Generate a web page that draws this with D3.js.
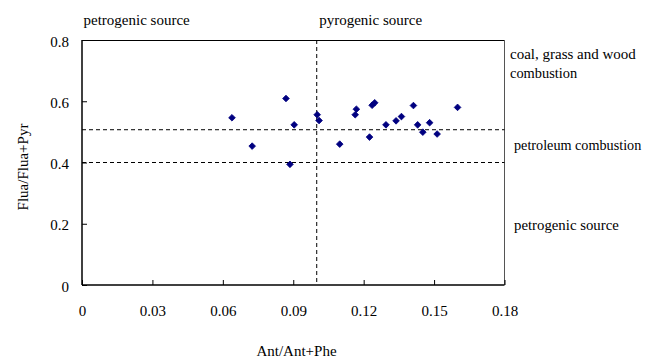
<!DOCTYPE html>
<html><head><meta charset="utf-8">
<script src="https://cdn.jsdelivr.net/npm/d3@7"></script>
<style>body{margin:0;background:#fff;}</style>
</head><body><svg id="c" width="645" height="357"></svg>
<script>
const antRatio = [0.0639,0.0869,0.0725,0.0904,0.0886,0.1002,0.1010,0.1098,0.1169,0.1164,0.1225,0.1236,0.1247,0.1295,0.1338,0.1361,0.1412,0.1430,0.1452,0.1481,0.1513,0.1600];
const fluaRatio = [0.546,0.609,0.4535,0.523,0.394,0.556,0.537,0.460,0.574,0.556,0.483,0.587,0.595,0.523,0.536,0.550,0.586,0.523,0.499,0.530,0.493,0.580];
const xTicks = [0,0.03,0.06,0.09,0.12,0.15,0.18];
const yTicks = [0,0.2,0.4,0.6,0.8];
const xThreshold = [0.1];
const yThresholds = [0.4,0.507];
const xLabel = "Ant/Ant+Phe";
const yLabel = "Flua/Flua+Pyr";
const topLabels = ["petrogenic source","pyrogenic source"];
const topLabelX = [0, 0.1];
const rightLabels = ["coal, grass and wood","combustion","petroleum combustion","petrogenic source"];

const FONT = "'Liberation Serif', 'Times New Roman', serif";
const svg = d3.select("#c");
const L=82, R=504.5, T=40, B=285;
const x = d3.scaleLinear().domain([0,0.18]).range([L,R]);
const y = d3.scaleLinear().domain([0,0.8]).range([B,T]);

// frame
svg.append("line").attr("x1",L).attr("x2",R).attr("y1",T+0.5).attr("y2",T+0.5).attr("stroke","#000").attr("stroke-width",1);
svg.append("line").attr("x1",R).attr("x2",R).attr("y1",T).attr("y2",B).attr("stroke","#555").attr("stroke-width",1);

// threshold lines
yThresholds.forEach(v=>{
  svg.append("line").attr("x1",L).attr("x2",R).attr("y1",y(v)).attr("y2",y(v))
    .attr("stroke","#000").attr("stroke-width",1).attr("stroke-dasharray","4,3");
});
xThreshold.forEach(v=>{
  svg.append("line").attr("x1",x(v)).attr("x2",x(v)).attr("y1",T).attr("y2",B)
    .attr("stroke","#000").attr("stroke-width",1).attr("stroke-dasharray","4,3");
});

// axes
const xAxis = svg.append("g").attr("transform",`translate(0,${B})`)
  .call(d3.axisBottom(x).tickValues(xTicks).tickSize(-5).tickPadding(0).tickFormat(d=>d===0?"0":d3.format(".2f")(d)));
xAxis.attr("font-family",FONT).attr("font-size",15);
xAxis.select(".domain").attr("stroke","#000").attr("stroke-width",1.5).attr("d",`M${L},0H${R}`);
xAxis.selectAll(".tick line").attr("stroke","#000");
xAxis.selectAll(".tick text").attr("y",31).attr("dy",0).attr("fill","#000");

const yAxis = svg.append("g").attr("transform",`translate(${L},0)`)
  .call(d3.axisLeft(y).tickValues(yTicks).tickSize(-5).tickPadding(0).tickFormat(d=>d===0?"0":d3.format(".1f")(d)));
yAxis.attr("font-family",FONT).attr("font-size",15);
yAxis.select(".domain").attr("stroke","#000").attr("stroke-width",1.5).attr("d",`M0,${T}V${B}`);
yAxis.selectAll(".tick line").attr("stroke","#000");
yAxis.selectAll(".tick text").attr("x",-13).attr("dy","0.4em").attr("fill","#000");

// points (diamonds = squares rotated 45°)
const marker = d3.symbol().type(d3.symbolSquare).size(22);
svg.append("g").selectAll("path").data(antRatio.map((a,i)=>[a,fluaRatio[i]])).join("path")
  .attr("d",marker).attr("transform",d=>`translate(${x(d[0])},${y(d[1])}) rotate(45)`)
  .attr("fill","#000080").attr("stroke","#000080").attr("stroke-width",0.8);

// labels
const g = svg.append("g").attr("font-family",FONT).attr("font-size",15).attr("fill","#000");
topLabels.forEach((t,i)=>{
  g.append("text").attr("x",x(topLabelX[i])+ (i===0?1.5:2.5)).attr("y",24.5).text(t);
});
const rightPos = [[510,58.5,15],[510,78,14.4],[514,150,14.2],[514,230,14.8]];
rightLabels.forEach((t,i)=>{
  const p = rightPos[i];
  g.append("text").attr("x",p[0]).attr("y",p[1]).attr("font-size",p[2]).text(t);
});
g.append("text").attr("x",296.5).attr("y",355.5).attr("text-anchor","middle").text(xLabel);
g.append("text").attr("transform","translate(27.5,167) rotate(-90)").attr("text-anchor","middle").text(yLabel);
</script></body></html>
